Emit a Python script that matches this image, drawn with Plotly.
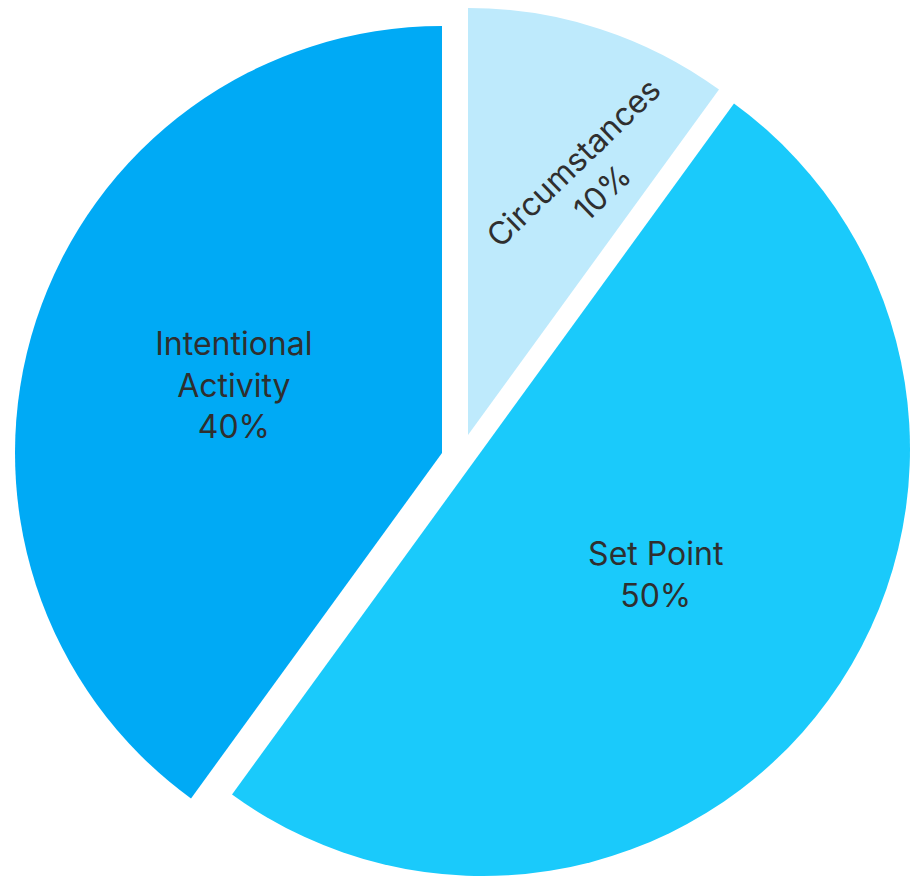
import math
import plotly.graph_objects as go

# ---- data ----
labels = ["Circumstances", "Set Point", "Intentional Activity"]
values = [10, 50, 40]
display_names = ["Circumstances", "Set Point", "Intentional<br>Activity"]
pct_labels = ["10%", "50%", "40%"]
colors = ["#BEEAFC", "#1ACAFB", "#00AAF5"]

# ---- layout / style constants ----
W, H = 913, 880
R = 427                                        # pie radius in px
centers = [(468, 435), (483, 449), (442, 453)]  # exploded centre of each slice (px)
FONT = dict(family="Inter, Liberation Sans, Arial", size=32, color="#2f2f2f")

fig = go.Figure()
for i, (cx, cy) in enumerate(centers):
    cols = [colors[j] if j == i else "rgba(0,0,0,0)" for j in range(len(values))]
    txt = [f"{display_names[j]}<br>{pct_labels[j]}" if (j == i and i != 0) else ""
           for j in range(len(values))]
    fig.add_trace(go.Pie(
        labels=labels, values=values, sort=False, direction="clockwise", rotation=0,
        marker=dict(colors=cols, line=dict(width=0)),
        text=txt, textinfo="text", textposition="inside",
        insidetextorientation="horizontal", textfont=FONT,
        domain=dict(x=[(cx - R) / W, (cx + R) / W], y=[1 - (cy + R) / H, 1 - (cy - R) / H]),
        showlegend=False, hoverinfo="skip",
    ))

# Circumstances label: rotated text inside its slice (position derived from slice angle)
total = sum(values)
start = 0.0
mid_angles = []
for v in values:
    mid_angles.append(start + 180.0 * v / total)
    start += 360.0 * v / total
cx0, cy0 = centers[0]
theta = math.radians(mid_angles[0] + 7)
rr = 0.665 * R
fig.add_annotation(
    x=(cx0 + rr * math.sin(theta)) / W, y=1 - (cy0 - rr * math.cos(theta)) / H,
    xref="paper", yref="paper", xanchor="center", yanchor="middle",
    text=f"{display_names[0]}<br>{pct_labels[0]}", textangle=-44,
    showarrow=False, font=FONT,
)

fig.update_layout(
    width=W, height=H, margin=dict(l=0, r=0, t=0, b=0),
    paper_bgcolor="white", plot_bgcolor="white", showlegend=False,
)
fig.write_html("out.html")
